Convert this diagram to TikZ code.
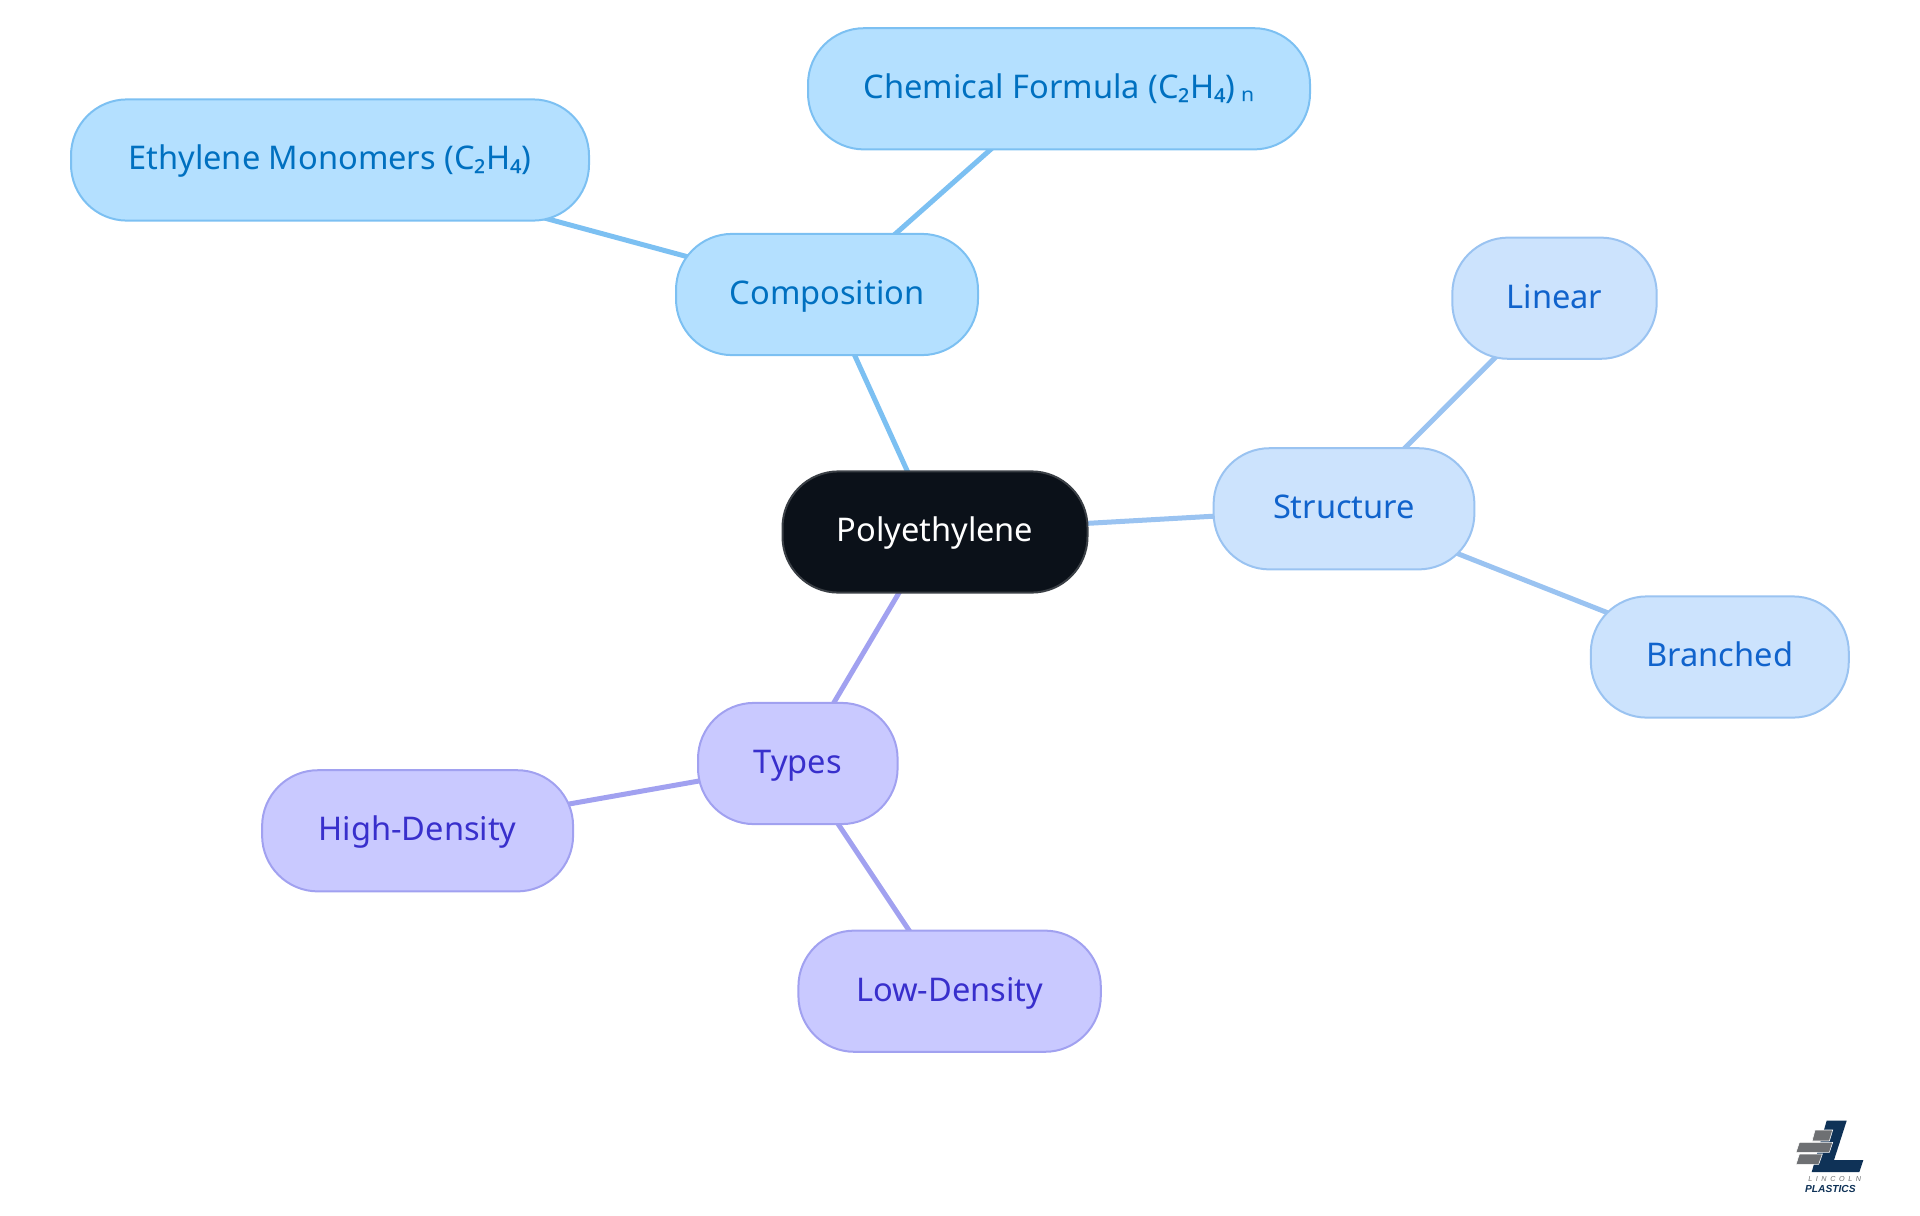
\documentclass[tikz,border=0pt]{standalone}
\usepackage{fontspec}
\setmainfont{Noto Sans}
\newfontfamily\logofont{Liberation Sans}
\pgfdeclarelayer{edges}
\pgfsetlayers{edges,main}
\definecolor{cFillA}{HTML}{B4E0FF}\definecolor{cLineA}{HTML}{7CC0F2}\definecolor{cTextA}{HTML}{0070C0}
\definecolor{cFillB}{HTML}{CCE3FD}\definecolor{cLineB}{HTML}{9AC3F1}\definecolor{cTextB}{HTML}{1063CC}
\definecolor{cFillC}{HTML}{C9C9FF}\definecolor{cLineC}{HTML}{A1A1F0}\definecolor{cTextC}{HTML}{382FCC}
\definecolor{cDark}{HTML}{0B1119}\definecolor{cDarkLine}{HTML}{3A3F45}
\definecolor{cNavy}{HTML}{0F3257}\definecolor{cGrey}{HTML}{6E7073}
\tikzset{
  x=0.5pt,y=-0.5pt,
  pill/.style={rectangle,rounded corners=28pt,line width=1pt,inner sep=0pt,
    minimum height=60.6pt,font=\fontsize{16.3pt}{18pt}\selectfont,text height=11.5pt,text depth=1.6pt},
  groupA/.style={pill,draw=cLineA,fill=cFillA,text=cTextA},
  groupB/.style={pill,draw=cLineB,fill=cFillB,text=cTextB},
  groupC/.style={pill,draw=cLineC,fill=cFillC,text=cTextC},
  rootpill/.style={pill,draw=cDarkLine,fill=cDark,text=white},
  linkA/.style={draw=cLineA,line width=2.5pt},
  linkB/.style={draw=cLineB,line width=2.5pt},
  linkC/.style={draw=cLineC,line width=2.5pt},
}
\begin{document}
\begin{tikzpicture}
\useasboundingbox (0,0) rectangle (1920,1215);
\node[rootpill,minimum width=152.5pt] (root) at (935,532) {Polyethylene};
\node[groupA,minimum width=151pt] (comp) at (827,294.5) {Composition};
\node[groupA,minimum width=259pt] (ethy) at (330,160) {Ethylene Monomers (C₂H₄)};
\node[groupA,minimum width=251pt] (chem) at (1059,88.8) {Chemical Formula (C₂H₄)\,ₙ};
\node[groupB,minimum width=130.4pt] (stru) at (1344,508.8) {Structure};
\node[groupB,minimum width=102.2pt] (line) at (1554.5,298.2) {Linear};
\node[groupB,minimum width=129pt] (bran) at (1719.8,657) {Branched};
\node[groupC,minimum width=99.8pt] (type) at (797.8,763.5) {Types};
\node[groupC,minimum width=155.5pt] (high) at (417.6,830.8) {High-Density};
\node[groupC,minimum width=151.2pt] (lowd) at (949.6,991.2) {Low-Density};
\begin{pgfonlayer}{edges}
\draw[linkA] (root.center) -- (comp.center);
\draw[linkA] (comp.center) -- (ethy.center);
\draw[linkA] (comp.center) -- (chem.center);
\draw[linkB] (root.center) -- (stru.center);
\draw[linkB] (stru.center) -- (line.center);
\draw[linkB] (stru.center) -- (bran.center);
\draw[linkC] (root.center) -- (type.center);
\draw[linkC] (type.center) -- (high.center);
\draw[linkC] (type.center) -- (lowd.center);
\end{pgfonlayer}
% logo
\begin{scope}[shift={(1760,1100)},x=0.16667pt,y=-0.16667pt]
\fill[cNavy] (200,62) -- (260,62) -- (222,180) -- (310,180) -- (298,216) -- (155,216) -- cycle;
\fill[cGrey,draw=white,line width=0.3pt] (165,90) -- (218,90) -- (208,123) -- (156,123) -- cycle;
\fill[cGrey,draw=white,line width=0.3pt] (118,127) -- (218,127) -- (208,157) -- (108,157) -- cycle;
\fill[cGrey,draw=white,line width=0.3pt] (118,162) -- (187,162) -- (176,193) -- (108,193) -- cycle;
\node[inner sep=0pt,text=cGrey,font=\logofont\itshape\fontsize{3.6pt}{4pt}\selectfont] (logoa) at (224,236) {L\,\,\,I\,\,\,N\,\,\,C\,\,\,O\,\,\,L\,\,\,N};
\node[inner sep=0pt,text=cNavy,font=\logofont\bfseries\itshape\fontsize{5.1pt}{6pt}\selectfont] (logob) at (211,266) {PLASTICS};
\end{scope}
\end{tikzpicture}
\end{document}
